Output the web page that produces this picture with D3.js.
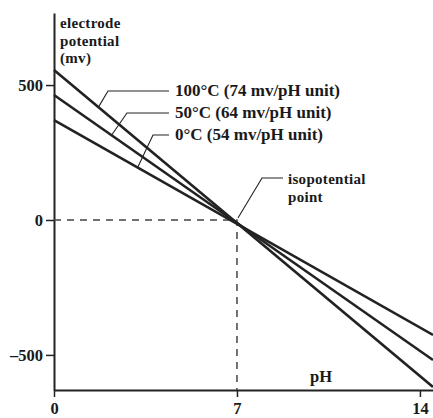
<!DOCTYPE html>
<html>
<head>
<meta charset="utf-8">
<script src="https://cdn.jsdelivr.net/npm/d3@7"></script>
<style>
  html, body { margin: 0; padding: 0; background: #fff; }
  svg { display: block; }
  text { font-family: "Liberation Serif", "Times New Roman", serif; font-weight: bold; fill: #1a1a1a; }
</style>
</head>
<body>
<svg id="chart" width="433" height="418"></svg>
<script>
// ---- data ----
const pH = [0, 14.5];
const temps = ["0°C", "50°C", "100°C"];
const slopeLabels = ["0°C (54 mv/pH unit)", "50°C (64 mv/pH unit)", "100°C (74 mv/pH unit)"];
const potential0C = [370, -426];
const potential50C = [463, -519];
const potential100C = [556, -619];
const xTicks = [0, 7, 14];
const yTicks = [500, 0, -500];
const isoPH = 7;
const isoPotential = 0;
const yTitle = ["electrode", "potential", "(mv)"];
const xTitle = "pH";
const isoLabel = ["isopotential", "point"];

const seriesValues = [potential0C, potential50C, potential100C];

// ---- layout ----
const svg = d3.select("#chart");
const x = d3.scaleLinear().domain([0, 14.5]).range([54, 433]);
const y = d3.scaleLinear().domain([-630, 767]).range([390, 13]);
const ink = "#222";
const fs = "16.5px";
const fsBlock = "15px";

// axes
const gy = svg.append("g").attr("transform", `translate(${x(0)},0)`)
  .call(d3.axisLeft(y).tickValues(yTicks).tickSizeInner(8).tickSizeOuter(0).tickPadding(3)
        .tickFormat(d => d === 0 ? "0" : (d < 0 ? "–" + Math.abs(d) : d)));
gy.select(".domain").attr("stroke", ink).attr("stroke-width", 2);
gy.selectAll(".tick line").attr("stroke", ink).attr("stroke-width", 1.5);
gy.selectAll(".tick text").style("font-size", fs).attr("fill", ink);

const gx = svg.append("g").attr("transform", `translate(0,${y(-630)})`)
  .call(d3.axisBottom(x).tickValues(xTicks).tickSizeInner(7).tickSizeOuter(0).tickPadding(5));
gx.select(".domain").attr("stroke", ink).attr("stroke-width", 2);
gx.selectAll(".tick line").attr("stroke", ink).attr("stroke-width", 1.5);
gx.selectAll(".tick text").style("font-size", fs).attr("fill", ink);

// dashed guides to isopotential point
svg.append("path")
  .attr("d", `M${x(0)},${y(isoPotential)}H${x(isoPH)}V${y(-630)}`)
  .attr("fill", "none").attr("stroke", "#444").attr("stroke-width", 1.5)
  .attr("stroke-dasharray", "7,6");

// series lines
const line = d3.line().x((d, i) => x(pH[i])).y(d => y(d));
svg.selectAll("path.series").data(seriesValues).join("path")
  .attr("class", "series")
  .attr("d", d => line(d))
  .attr("fill", "none").attr("stroke", ink).attr("stroke-width", 2.6);

// y title (separate lines)
yTitle.forEach((t, i) => {
  svg.append("text").attr("x", 60).attr("y", 28 + i * 17.5)
    .style("font-size", fsBlock).style("letter-spacing", "0.3px").text(t);
});

// x title
svg.append("text").attr("x", 321).attr("y", 382).attr("text-anchor", "middle")
  .style("font-size", fs).text(xTitle);

// series labels with leaders
const labelX = 175;
const labelY = [140, 118, 96];
const leaderKneeX = [153, 127, 108];
const leaderTargetPH = [3.2, 2.2, 1.7];
seriesValues.forEach((vals, i) => {
  const f = d3.scaleLinear().domain(pH).range(vals);
  const tx = x(leaderTargetPH[i]), ty = y(f(leaderTargetPH[i]));
  const ly = labelY[i] - 5;
  svg.append("path")
    .attr("d", `M${labelX - 6},${ly}H${leaderKneeX[i]}L${tx},${ty}`)
    .attr("fill", "none").attr("stroke", ink).attr("stroke-width", 1.1);
  svg.append("text").attr("x", labelX).attr("y", labelY[i])
    .style("font-size", "17px").text(slopeLabels[i]);
});

// isopotential label
svg.append("path")
  .attr("d", `M283,178H262L${x(isoPH) + 1},${y(isoPotential) - 2}`)
  .attr("fill", "none").attr("stroke", ink).attr("stroke-width", 1.1);
isoLabel.forEach((t, i) => {
  svg.append("text").attr("x", 288).attr("y", 184 + i * 17.5)
    .style("font-size", fsBlock).style("letter-spacing", "0.3px").text(t);
});
</script>
</body>
</html>
